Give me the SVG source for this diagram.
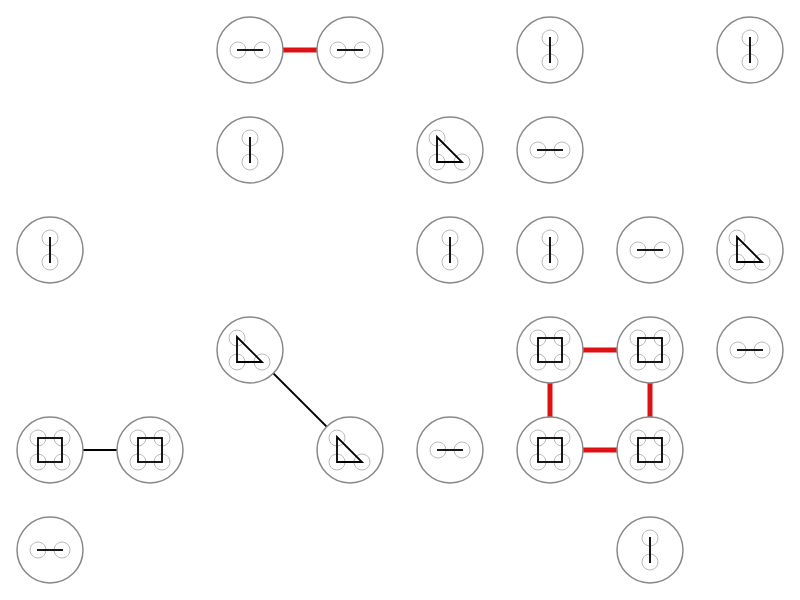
<svg xmlns="http://www.w3.org/2000/svg" width="800" height="600" viewBox="0 0 800 600" xmlns:xlink="http://www.w3.org/1999/xlink">
<style>
.n{fill:#fff;stroke:#888;stroke-width:1.5}
.s{fill:none;stroke:#bbb;stroke-width:1}
.g{fill:none;stroke:#000;stroke-width:1.8}
.r{stroke:#dd1111;stroke-width:5}
.b{stroke:#000;stroke-width:1.8}
</style>
<defs>
<g id="H"><circle class="n" r="33"/><circle class="s" cx="-12" r="8"/><circle class="s" cx="12" r="8"/><line class="g" x1="-13" x2="13"/></g>
<g id="V"><circle class="n" r="33"/><circle class="s" cy="-12" r="8"/><circle class="s" cy="12" r="8"/><line class="g" y1="-13" y2="13"/></g>
<g id="T"><circle class="n" r="33"/><circle class="s" cx="-13" cy="-12" r="8"/><circle class="s" cx="-13" cy="12" r="8"/><circle class="s" cx="12" cy="12" r="8"/><polygon class="g" points="-13,-13 -13,12 12,12"/></g>
<g id="S"><circle class="n" r="33"/><circle class="s" cx="-12" cy="-12" r="8"/><circle class="s" cx="12" cy="-12" r="8"/><circle class="s" cx="-12" cy="12" r="8"/><circle class="s" cx="12" cy="12" r="8"/><rect class="g" x="-12" y="-12" width="24" height="24"/></g>
</defs>
<g id="edges">
<line class="r" x1="283" y1="50" x2="317" y2="50"/>
<line class="b" x1="83" y1="450" x2="117" y2="450"/>
<line class="b" x1="273" y1="373" x2="327" y2="427"/>
<line class="r" x1="583" y1="350" x2="617" y2="350"/>
<line class="r" x1="583" y1="450" x2="617" y2="450"/>
<line class="r" x1="550" y1="383" x2="550" y2="417"/>
<line class="r" x1="650" y1="383" x2="650" y2="417"/>
</g>
<g id="n1"><use href="#H" x="250" y="50"/></g>
<g id="n2"><use href="#H" x="350" y="50"/></g>
<g id="n3"><use href="#V" x="550" y="50"/></g>
<g id="n4"><use href="#V" x="750" y="50"/></g>
<g id="n5"><use href="#V" x="250" y="150"/></g>
<g id="n6"><use href="#T" x="450" y="150"/></g>
<g id="n7"><use href="#H" x="550" y="150"/></g>
<g id="n8"><use href="#V" x="50" y="250"/></g>
<g id="n9"><use href="#V" x="450" y="250"/></g>
<g id="n10"><use href="#V" x="550" y="250"/></g>
<g id="n11"><use href="#H" x="650" y="250"/></g>
<g id="n12"><use href="#T" x="750" y="250"/></g>
<g id="n13"><use href="#T" x="250" y="350"/></g>
<g id="n14"><use href="#S" x="550" y="350"/></g>
<g id="n15"><use href="#S" x="650" y="350"/></g>
<g id="n16"><use href="#H" x="750" y="350"/></g>
<g id="n17"><use href="#S" x="50" y="450"/></g>
<g id="n18"><use href="#S" x="150" y="450"/></g>
<g id="n19"><use href="#T" x="350" y="450"/></g>
<g id="n20"><use href="#H" x="450" y="450"/></g>
<g id="n21"><use href="#S" x="550" y="450"/></g>
<g id="n22"><use href="#S" x="650" y="450"/></g>
<g id="n23"><use href="#H" x="50" y="550"/></g>
<g id="n24"><use href="#V" x="650" y="550"/></g>
</svg>
